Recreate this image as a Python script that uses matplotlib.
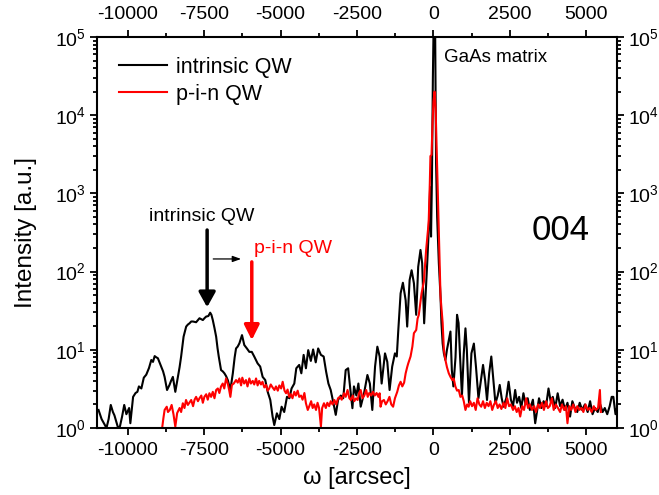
import matplotlib
matplotlib.use("Agg")
import matplotlib.pyplot as plt
from matplotlib.ticker import MultipleLocator, LogLocator, NullFormatter

plt.rcParams['font.family'] = ['Liberation Sans', 'DejaVu Sans']
plt.rcParams['mathtext.fontset'] = 'custom'
plt.rcParams['mathtext.rm'] = 'Liberation Sans'
plt.rcParams['mathtext.it'] = 'Liberation Sans:italic'
plt.rcParams['axes.unicode_minus'] = False

# ---- intrinsic QW (black) ----
black_x = [-10950, -10850, -10690, -10620, -10550, -10480, -10430, -10370, -10310, -10250,
           -10180, -10110, -10040, -9950, -9910, -9820, -9740, -9680, -9630, -9550,
           -9470, -9390, -9300, -9225, -9170, -9115, -9060, -9010, -8950, -8900,
           -8840, -8790, -8710, -8630, -8580, -8520, -8440, -8355, -8300, -8250,
           -8170, -8085, -8030, -7975, -7920, -7865, -7760, -7700, -7650, -7540,
           -7480, -7430, -7360, -7300, -7260, -7215, -7160, -7105, -7060, -7020,
           -6945, -6890, -6835, -6780, -6725, -6640, -6560, -6500, -6455, -6400,
           -6345, -6260, -6185, -6100, -6020, -5940, -5860, -5750, -5665, -5585,
           -5500, -5420, -5335, -5260, -5205, -5120, -5040, -4965, -4880, -4790,
           -4710, -4640, -4550, -4485, -4390, -4320, -4245, -4170, -4095, -4010,
           -3935, -3850, -3770, -3680, -3590, -3510, -3435, -3360, -3270, -3195,
           -3120, -3030, -2950, -2870, -2790, -2705, -2650, -2600, -2520, -2455,
           -2380, -2270, -2160, -2080, -2000, -1910, -1835, -1760, -1695, -1585,
           -1510, -1435, -1350, -1260, -1200, -1150, -1075, -1000, -910, -860,
           -780, -715, -640, -565, -500, -425, -370, -305, -205, -150,
           -110, -80, -50, -20, 20, 45, 70, 85, 120, 175,
           230, 260, 300, 340, 390, 440, 500, 555, 600, 650,
           720, 770, 820, 870, 930, 990, 1045, 1090, 1160, 1240,
           1320, 1390, 1470, 1550, 1620, 1690, 1750, 1820, 1890, 1960,
           2025, 2100, 2165, 2230, 2290, 2380, 2455, 2530, 2600, 2670,
           2730, 2800, 2870, 2940, 3010, 3080, 3150, 3250, 3325, 3380,
           3450, 3530, 3600, 3680, 3760, 3830, 3900, 3980, 4060, 4140,
           4220, 4300, 4380, 4465, 4540, 4620, 4700, 4780, 4860, 4950,
           5040, 5120, 5200, 5280, 5370, 5450, 5530, 5600, 5680, 5760,
           5825, 5880, 5950, 6000]
black_y = [1.7, 1.3, 1.0, 1.3, 1.97, 1.6, 1.45, 1.2, 1.0, 1.05,
           1.4, 1.97, 1.5, 1.8, 1.15, 2.5, 2.8, 2.9, 3.4, 3.2,
           4.4, 4.8, 5.85, 7.4, 7.0, 8.3, 8.0, 7.8, 6.8, 6.1,
           5.3, 4.5, 3.06, 3.55, 4.0, 4.5, 2.9, 4.5, 6.0, 8.2,
           14.7, 19.8, 21, 21.8, 23, 23, 22.5, 24, 25.3, 24,
           25.5, 26.6, 27, 29.8, 28, 24, 19, 14.7, 10.5, 8.2,
           5.5, 5.3, 5.0, 4.6, 4.1, 3.06, 5.0, 8.0, 10.4, 11,
           12.1, 15.4, 11.5, 10.4, 9.4, 9.4, 8.2, 6.7, 6.1, 4.5,
           4.1, 2.9, 2.28, 1.4, 1.09, 1.54, 1.3, 1.87, 1.6, 2.5,
           2.4, 3.2, 3.7, 5.8, 6.4, 5.0, 8.6, 5.8, 9.9, 7.2,
           10.1, 6.9, 10.4, 8.6, 8.2, 5.25, 3.7, 3.06, 2.07, 1.47,
           2.28, 2.6, 2.4, 5.5, 5.8, 2.78, 1.79, 3.4, 2.6, 3.7,
           1.87, 2.78, 4.76, 3.7, 1.7, 6.1, 10.96, 8.2, 3.7, 9.0,
           7.0, 3.06, 6.1, 9.0, 8.2, 17.9, 52.7, 72, 43, 19.8,
           78, 104, 71, 28, 115, 189, 128, 21.8, 128, 375,
           1200, 280, 1600, 30000, 400000, 400000, 20000, 2400, 500, 128,
           48, 22, 12, 9.0, 7.4, 10, 13.3, 17.1, 5.5, 3.4,
           8, 28, 22, 8, 2.6, 9, 18.8, 10, 2.1, 9.0,
           12, 6, 2.4, 4, 6.4, 4, 2.28, 5, 8.2, 4,
           2.07, 2.6, 3.55, 2.4, 1.87, 2.4, 3.9, 2.3, 1.9, 3.06,
           2.1, 2.5, 1.8, 2.78, 2.0, 2.4, 1.7, 2.3, 1.15, 1.6,
           2.4, 1.8, 2.2, 1.9, 3.2, 2.2, 2.5, 1.8, 2.78, 1.9,
           2.3, 1.7, 2.1, 1.4, 2.2, 1.8, 1.6, 2.1, 1.7, 2.0,
           1.6, 2.2, 1.5, 1.8, 1.6, 2.0, 1.6, 1.8, 1.5, 1.9,
           2.5, 2.5, 1.5, 1.8]

# ---- p-i-n QW (red) ----
red_x = [-8870, -8830, -8790, -8720, -8680, -8620, -8560, -8500, -8440, -8380,
         -8300, -8250, -8195, -8140, -8090, -8030, -7980, -7920, -7860, -7810,
         -7760, -7700, -7650, -7590, -7540, -7490, -7430, -7380, -7325, -7270,
         -7215, -7160, -7105, -7050, -7000, -6945, -6890, -6840, -6780, -6725,
         -6680, -6640, -6590, -6530, -6455, -6400, -6345, -6290, -6250, -6190,
         -6130, -6080, -6020, -5970, -5910, -5860, -5800, -5750, -5700, -5640,
         -5590, -5530, -5475, -5420, -5370, -5320, -5260, -5200, -5150, -5090,
         -5040, -4980, -4930, -4870, -4820, -4770, -4720, -4660, -4610, -4550,
         -4500, -4440, -4390, -4330, -4280, -4220, -4170, -4110, -4060, -4000,
         -3950, -3900, -3840, -3790, -3740, -3680, -3640, -3580, -3520, -3470,
         -3410, -3360, -3300, -3240, -3180, -3120, -3060, -3000, -2925, -2870,
         -2810, -2750, -2700, -2640, -2590, -2530, -2480, -2430, -2380, -2320,
         -2260, -2200, -2150, -2100, -2040, -1980, -1920, -1860, -1800, -1760,
         -1730, -1680, -1620, -1560, -1500, -1440, -1380, -1320, -1260, -1185,
         -1130, -1075, -1020, -960, -910, -860, -825, -750, -690, -640,
         -565, -520, -480, -390, -315, -240, -180, -155, -120, -100,
         -65, -30, 0, 35, 70, 95, 120, 175, 230, 270,
         300, 340, 390, 440, 500, 555, 615, 660, 715, 770,
         825, 880, 940, 990, 1045, 1100, 1150, 1200, 1260, 1320,
         1380, 1440, 1500, 1560, 1620, 1680, 1740, 1800, 1860, 1920,
         1980, 2040, 2100, 2160, 2220, 2290, 2350, 2410, 2470, 2530,
         2600, 2660, 2720, 2780, 2835, 2900, 2960, 3030, 3090, 3150,
         3220, 3290, 3350, 3420, 3480, 3550, 3610, 3680, 3740, 3800,
         3870, 3930, 4000, 4070, 4140, 4200, 4270, 4330, 4380, 4440,
         4500, 4570, 4640, 4700, 4770, 4840, 4900, 4970, 5040, 5100,
         5170, 5240, 5300, 5380, 5440, 5470]
red_y = [1.0, 1.33, 1.7, 1.87, 1.6, 1.7, 1.97, 1.5, 1.04, 1.55,
         1.8, 1.6, 2.07, 1.8, 2.28, 1.97, 2.1, 2.28, 1.9, 2.3,
         2.5, 2.2, 2.4, 2.6, 2.1, 2.5, 2.7, 2.3, 2.78, 2.5,
         2.9, 2.4, 3.06, 3.2, 2.8, 3.4, 3.7, 3.2, 4.3, 3.7,
         3.06, 2.5, 3.55, 3.7, 4.1, 3.8, 4.3, 3.5, 4.4, 3.7,
         4.1, 3.4, 4.3, 3.7, 4.0, 3.6, 4.3, 3.5, 4.0, 3.6,
         3.9, 3.3, 3.55, 3.0, 3.2, 3.6, 3.3, 3.06, 3.4, 3.0,
         3.5, 3.2, 3.9, 3.0, 2.78, 3.1, 2.5, 2.7, 2.4, 2.9,
         2.6, 3.0, 2.5, 2.6, 2.3, 2.8, 2.07, 1.7, 1.9, 2.2,
         1.8, 2.0, 1.7, 2.1, 1.8, 1.04, 1.8, 2.07, 1.8, 2.1,
         1.9, 2.2, 2.0, 2.28, 2.0, 2.4, 2.5, 2.3, 2.78, 2.5,
         3.06, 2.4, 2.28, 2.6, 2.2, 2.4, 2.28, 2.8, 3.06, 2.4,
         2.6, 3.06, 2.5, 2.8, 2.6, 2.9, 2.6, 2.8, 2.5, 2.78,
         1.87, 2.2, 2.28, 2.0, 2.2, 2.5, 2.0, 1.87, 2.4, 2.9,
         3.5, 3.9, 3.4, 3.8, 5.0, 6.0, 6.7, 8.2, 11, 16.3,
         17.9, 25, 28, 52.7, 74, 190, 340, 460, 1350, 3000,
         3100, 8000, 15000, 20000, 12000, 5000, 2000, 340, 48, 30,
         22, 10, 7.4, 6, 5, 4.5, 4.1, 4.3, 3.4, 3.0,
         3.06, 2.5, 2.6, 2.2, 1.7, 2.0, 1.87, 2.2, 1.9, 2.1,
         1.7, 2.4, 2.0, 1.87, 2.2, 1.8, 2.1, 1.9, 2.2, 1.7,
         2.0, 2.2, 1.8, 2.0, 1.75, 2.1, 1.8, 2.4, 1.9, 2.0,
         1.7, 1.9, 1.6, 1.8, 1.4, 1.9, 1.7, 2.4, 1.8, 2.0,
         1.7, 1.9, 1.6, 2.0, 1.8, 2.1, 1.7, 2.2, 1.8, 1.9,
         2.4, 1.7, 2.0, 1.8, 1.6, 2.0, 1.7, 1.9, 1.15, 1.9,
         1.7, 2.0, 1.6, 1.9, 1.7, 1.8, 1.6, 2.0, 1.7, 1.8,
         1.6, 1.9, 1.7, 1.8, 3.06, 1.6]

x_major = [-10000, -7500, -5000, -2500, 0, 2500, 5000]

fig = plt.figure(figsize=(6.59, 4.95), dpi=100)
ax = fig.add_axes([0.1472, 0.1354, 0.7891, 0.7899])

ax.plot(black_x, black_y, color='black', lw=1.5, label='intrinsic QW')
ax.plot(red_x, red_y, color='red', lw=1.5, label='p-i-n QW')

ax.set_yscale('log')
ax.set_xlim(-11000, 6000)
ax.set_ylim(1, 1e5)
ax.set_xticks(x_major)
ax.xaxis.set_minor_locator(MultipleLocator(1250))
ax.yaxis.set_major_locator(LogLocator(base=10, numticks=10))
ax.yaxis.set_minor_locator(LogLocator(base=10, subs=range(2, 10), numticks=20))
ax.yaxis.set_minor_formatter(NullFormatter())

for s in ax.spines.values():
    s.set_linewidth(1.5)
ax.tick_params(which='both', direction='out', top=True, right=True,
               labeltop=True, labelright=True, labelsize=14, width=1.3)
ax.tick_params(which='major', length=5, pad=3)
ax.tick_params(which='minor', length=3)
ax.tick_params(axis='x', which='major', pad=5)

ax.set_xlabel('ω [arcsec]', fontsize=17, labelpad=6)
ax.set_ylabel('Intensity [a.u.]', fontsize=17.5, labelpad=13)

leg = ax.legend(loc='upper left', bbox_to_anchor=(0.043, 0.95), frameon=False,
                fontsize=15.5, handlelength=2.2, handletextpad=0.45,
                labelspacing=0.3, borderaxespad=0, borderpad=0)

ax.text(330, 54000, 'GaAs matrix', fontsize=13.5, ha='left', va='center')
ax.text(4170, 340, '004', fontsize=25, ha='center', va='center')
ax.text(-7590, 500, 'intrinsic QW', fontsize=14, ha='center', va='center')
ax.text(-5880, 200, 'p-i-n QW', fontsize=14, ha='left', va='center', color='red')

ax.annotate('', xy=(-7400, 35), xytext=(-7400, 340),
            arrowprops=dict(arrowstyle='-|>,head_length=0.9,head_width=0.5',
                            color='black', lw=2.5, shrinkA=0, shrinkB=0))
ax.annotate('', xy=(-5940, 13.3), xytext=(-5940, 133),
            arrowprops=dict(arrowstyle='-|>,head_length=0.9,head_width=0.45',
                            color='red', lw=2.5, shrinkA=0, shrinkB=0))
ax.annotate('', xy=(-6290, 145), xytext=(-7200, 145),
            arrowprops=dict(arrowstyle='-|>,head_length=0.5,head_width=0.18',
                            color='black', lw=0.9, shrinkA=0, shrinkB=0))

fig.savefig('out.png', dpi=100)
